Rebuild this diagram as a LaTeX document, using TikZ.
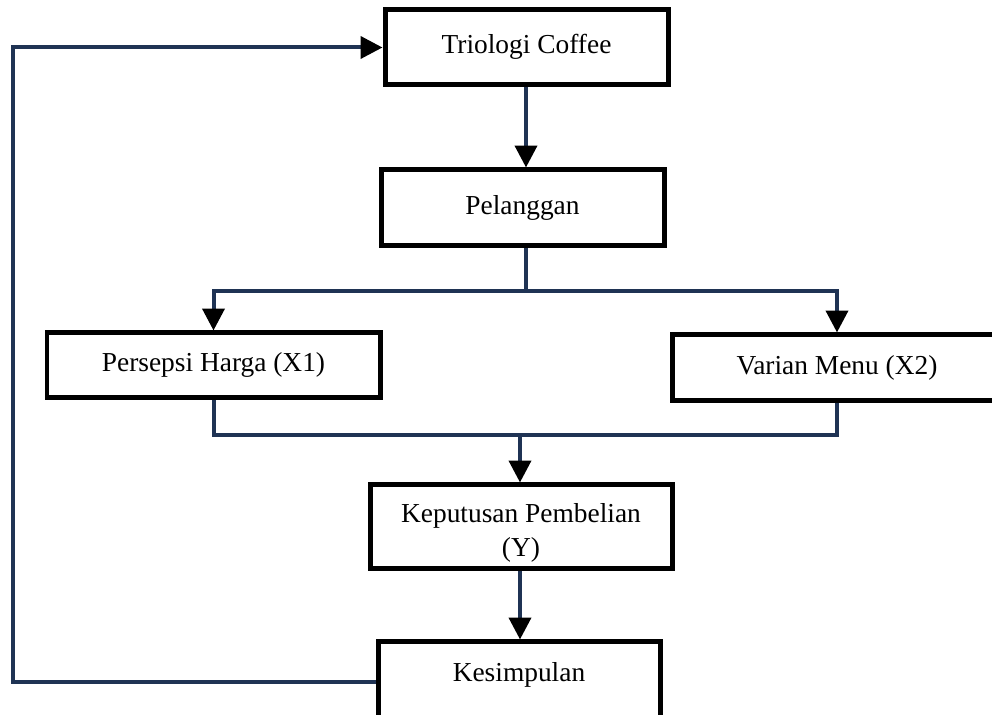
\documentclass[tikz,border=0pt]{standalone}
\usepackage{fontspec}
\setmainfont{Liberation Serif}
\usetikzlibrary{arrows.meta, calc, positioning}
\definecolor{flownavy}{HTML}{1F3354}
\tikzset{
	stepbox/.style 2 args={draw=black, line width=0.1cm, fill=white,
		minimum width=#1*0.02cm, minimum height=#2*0.02cm,
		inner sep=0pt, font=\fontsize{15.6}{19.8}\selectfont}
}
\tikzset{
	onerow/.style={text height=11pt, text depth=4pt}
}
\tikzset{
	flow/.style={draw=flownavy, line width=0.08cm},
	flowarrow/.style={flow, -{Triangle[length=12.5pt, width=12.5pt, color=black]}}
}

\begin{document}
\begin{tikzpicture}[x=0.02cm, y=-0.02cm]
      \useasboundingbox (0,0) rectangle (992,715);
      \node[stepbox={283}{75}, onerow] (trio) at (526.5,47.5) {Triologi Coffee};
      \node[stepbox={283}{76}, onerow] (pel) at (522.5,208) {Pelanggan};
      \node[stepbox={333}{65}, onerow] (harga) at (213.5,365.5) {Persepsi Harga (X1)};
      \node[stepbox={330}{66}, onerow] (menu) at (837,368) {Varian Menu (X2)};
      \node[stepbox={302}{84}, align=center] (kep) at (521,527) {\rule{0pt}{17.6pt}Keputusan Pembelian\\(Y)};
      \node[stepbox={282}{80}, text height=11pt, text depth=11pt] (kes) at (519,682) {Kesimpulan};
      \coordinate (split) at (526,291);
      \coordinate (join) at (520,435);
      \coordinate (back) at (13,400);
      \draw[flowarrow] (trio.south -| split) -- (pel.north -| split);
      % branch to both variables
      \draw[flow] (pel.south -| split) -- (split);
      \draw[flowarrow] (split) -| (harga.north);
      \draw[flowarrow] (split) -| (menu.north);
      % merge into the decision
      \draw[flow] (harga.south) |- (join) -| (menu.south);
      \draw[flowarrow] (join) -- (kep.north -| join);
      \draw[flowarrow] (kep.south -| join) -- (kes.north -| join);
      % feedback loop
      \draw[flowarrow] (kes.west) -| (back) |- (trio.west);
    \end{tikzpicture}
\end{document}
